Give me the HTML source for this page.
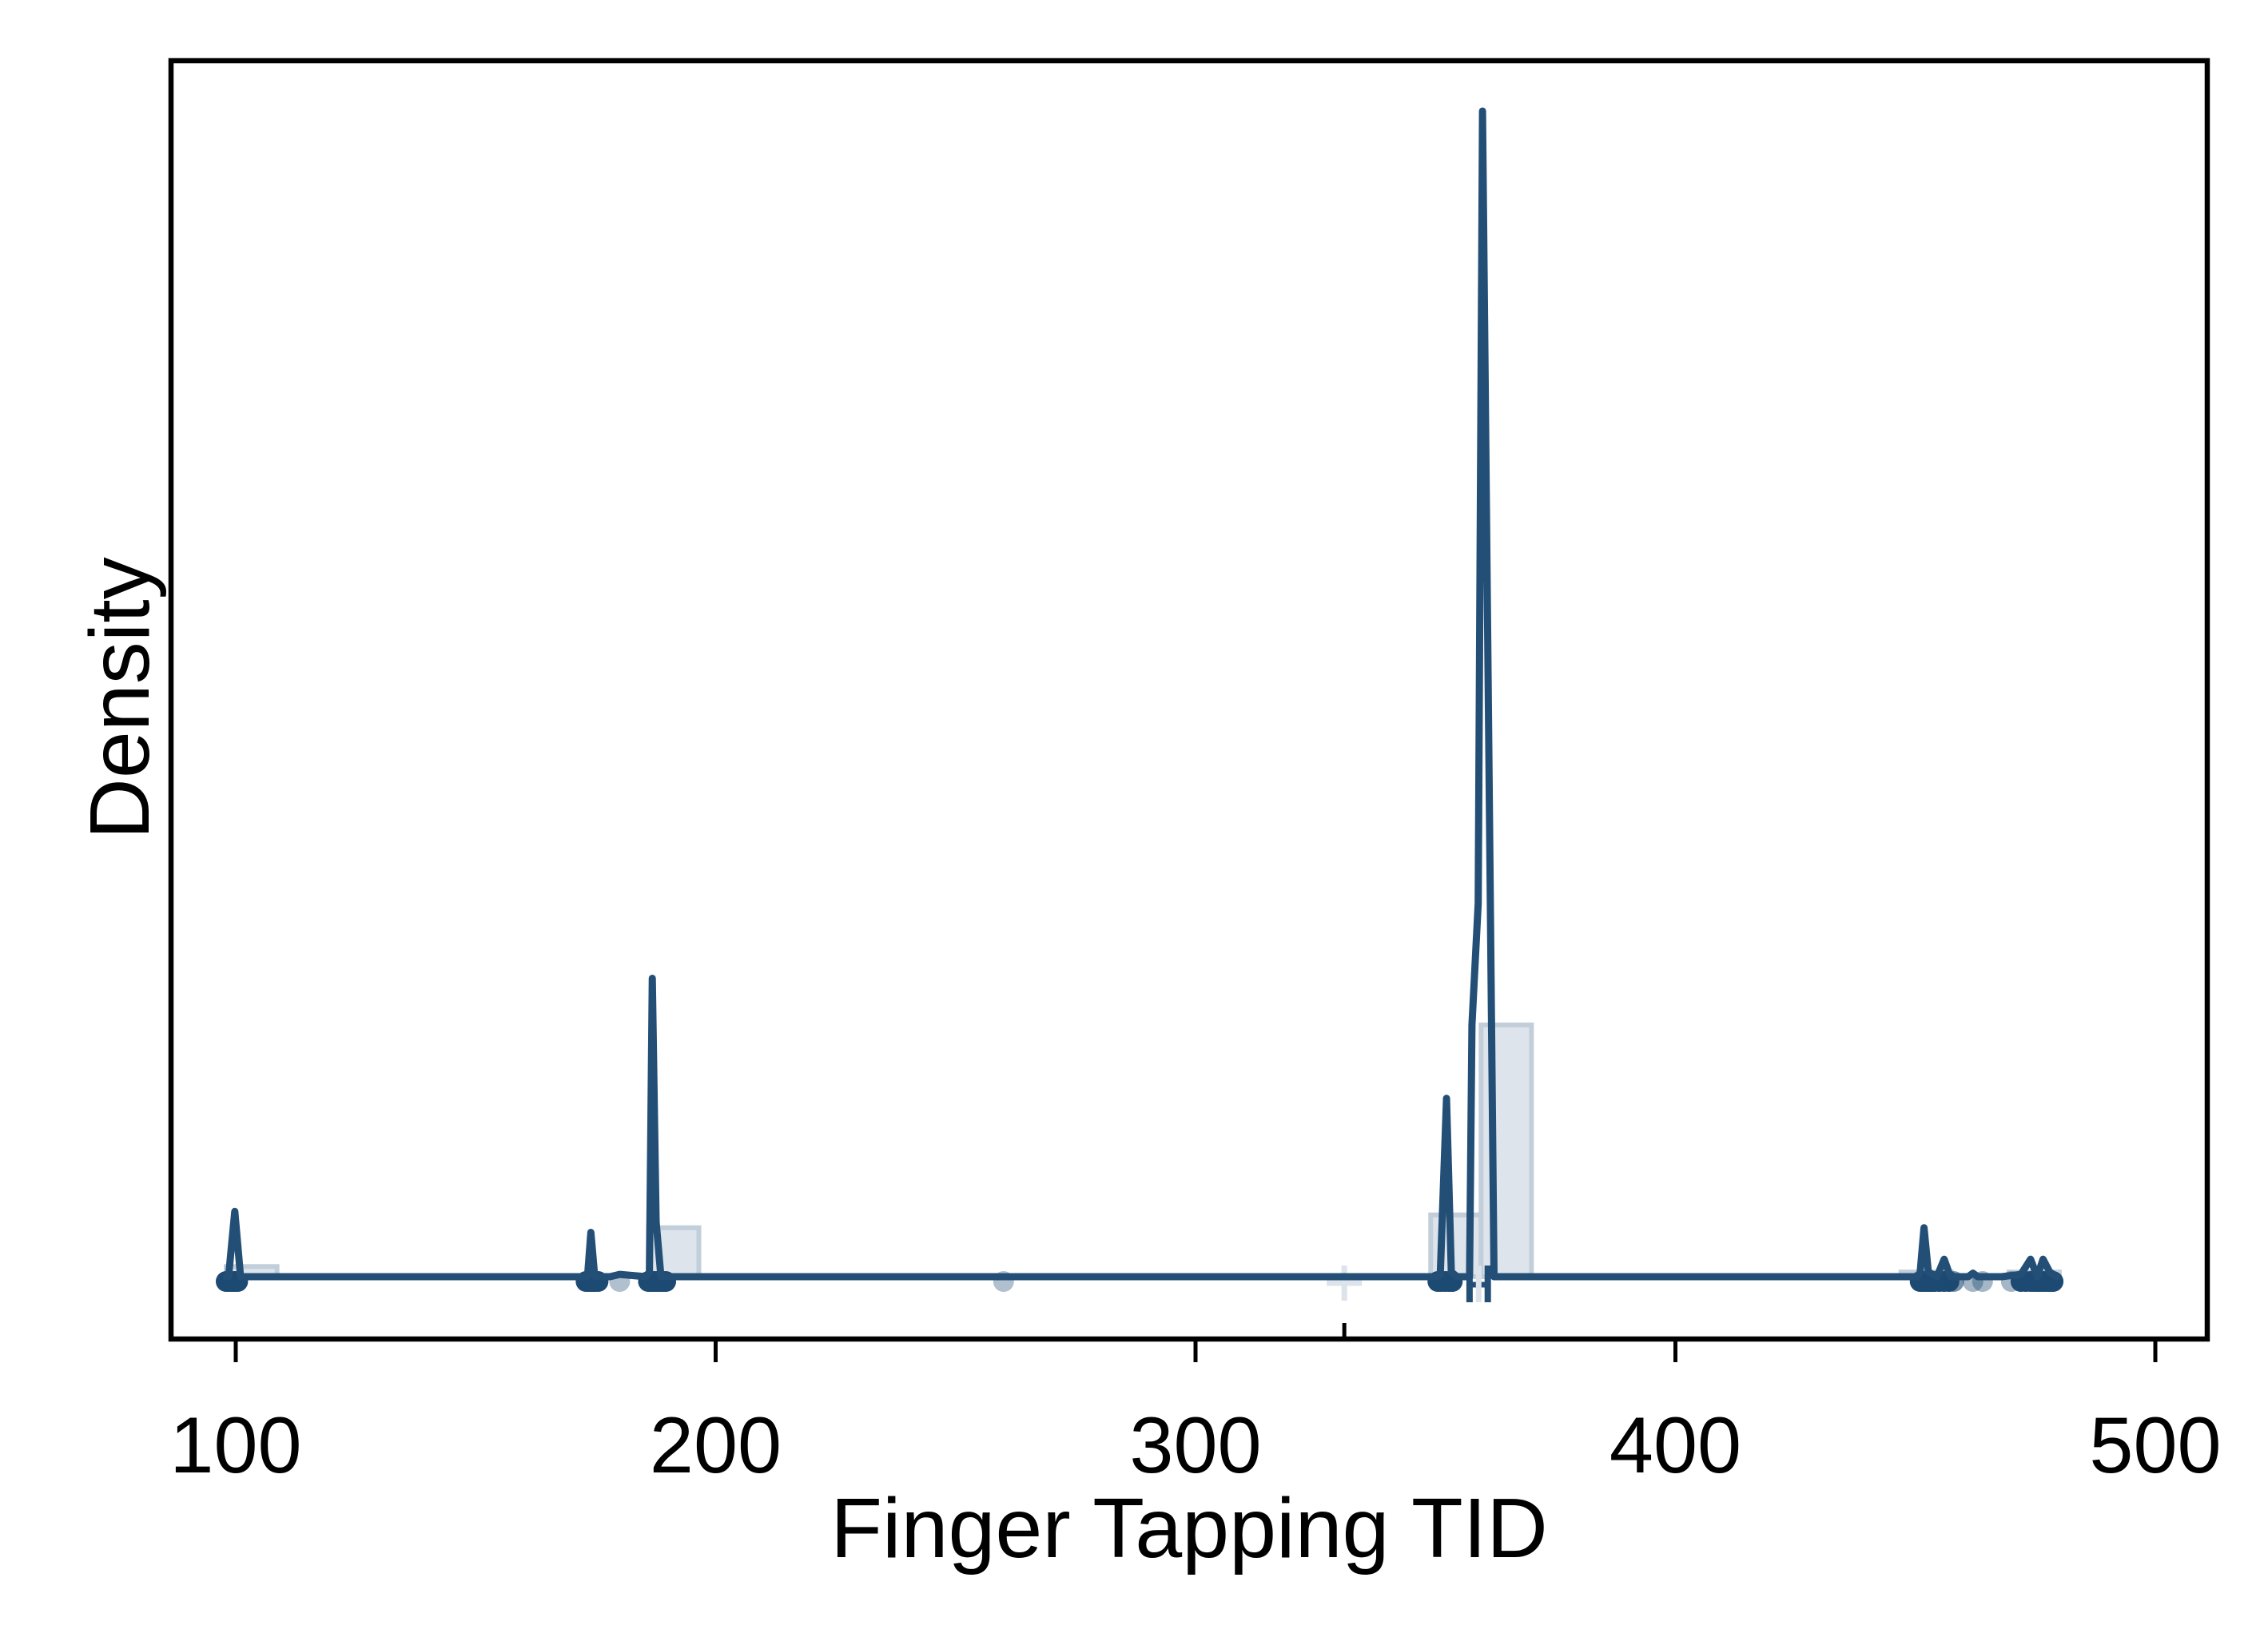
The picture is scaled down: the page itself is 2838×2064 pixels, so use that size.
<!DOCTYPE html>
<html><head><meta charset="utf-8"><style>
html,body{margin:0;padding:0;background:#fff;}
svg{display:block;font-family:"Liberation Sans",Arial,sans-serif;}
</style></head><body>
<svg id="chart" width="2838" height="2064" viewBox="0 0 2838 2064">
<rect x="0" y="0" width="2838" height="2064" fill="#fff"/>
<g id="hist"></g>
<g id="extras"></g>
<g id="dots"></g>
<path id="dens" fill="none" stroke="#234f77" stroke-width="9" stroke-linejoin="round" stroke-linecap="round"/>
<rect x="214" y="76" width="2548" height="1600" fill="none" stroke="#000" stroke-width="6.5"/>
<g id="xaxis"></g>
<text x="1488" y="1949" font-size="106" text-anchor="middle" fill="#000">Finger Tapping TID</text>
<text x="0" y="0" font-size="106" text-anchor="middle" fill="#000" transform="translate(186,874) rotate(-90)">Density</text>
</svg>
<script>
const xTicks = [100, 200, 300, 400, 500];
const densX = [98, 98.5, 99.8, 101, 102, 172.5, 173.3, 174, 174.8, 176, 178, 180, 185.5, 186.2, 186.8, 187.6, 188.6, 190, 350.3, 351, 352.3, 353.3, 354.5, 355.5, 357.1, 357.6, 358.9, 359.8, 362.2, 363, 450.5, 451, 451.8, 452.7, 454.5, 456, 457.3, 459, 461, 462, 463, 468, 472, 474, 475.4, 476.6, 478, 479.5];
const densY = [0, 0, 0.056, 0, 0, 0, 0, 0.038, 0, 0, 0, 0.002, 0, 0.004, 0.256, 0.047, 0, 0, 0, 0.002, 0.153, 0.004, 0, 0, 0, 0.216, 0.32, 1.0, 0, 0, 0, 0.004, 0.042, 0.004, 0, 0.015, 0, 0, 0, 0.003, 0, 0, 0.002, 0.015, 0, 0.015, 0.004, 0];
const binStart = [98, 186, 349, 359.5, 447, 469.5];
const binEnd = [108.6, 196.5, 359.5, 370, 457.5, 480];
const binHeight = [0.0087, 0.042, 0.053, 0.216, 0.004, 0.004];
const pointX = [98, 98.6, 99.2, 99.8, 100.4, 173, 173.6, 174.2, 174.8, 175.5, 180, 186, 186.6, 187.2, 187.8, 188.4, 189, 189.6, 260, 350.5, 351.2, 352, 352.8, 353.5, 451, 451.6, 452.2, 452.8, 453.4, 454, 455, 456, 457, 458, 462, 464, 470, 472, 473, 474, 474.7, 475.4, 476, 476.7, 477.4, 478, 478.7];
const pointAlpha = [1, 1, 1, 1, 1, 1, 1, 1, 1, 1, 0.35, 1, 1, 1, 1, 1, 1, 1, 0.35, 1, 1, 1, 1, 1, 1, 1, 1, 1, 1, 1, 1, 1, 1, 0.6, 0.4, 0.4, 0.4, 1, 1, 1, 1, 1, 1, 1, 1, 1, 1];

const NS = "http://www.w3.org/2000/svg";
function sx(v){ return 295 + (v - 100) * 600.5 / 100; }
function sy(d){ return 1598 - d * 1459; }

const hist = document.getElementById('hist');
for (let i = 0; i < binStart.length; i++) {
  const r = document.createElementNS(NS, 'rect');
  const x0 = sx(binStart[i]), x1 = sx(binEnd[i]);
  r.setAttribute('x', x0); r.setAttribute('width', x1 - x0);
  r.setAttribute('y', sy(binHeight[i])); r.setAttribute('height', 1598 - sy(binHeight[i]));
  r.setAttribute('fill', '#dde4ec'); r.setAttribute('stroke', '#c2ceda'); r.setAttribute('stroke-width', '6');
  
  
  hist.appendChild(r);
}

const extras = document.getElementById('extras');
function addLine(x1,y1,x2,y2,col,w,name){
  const l = document.createElementNS(NS,'line');
  l.setAttribute('x1',x1);l.setAttribute('y1',y1);l.setAttribute('x2',x2);l.setAttribute('y2',y2);
  l.setAttribute('stroke',col);l.setAttribute('stroke-width',w);
  
  
  extras.appendChild(l);
}
addLine(sx(250), 1598, sx(262), 1598, '#b9c6d3', 8, 'light-segment');
addLine(sx(331)-22, 1606, sx(331)+22, 1606, '#dde3ea', 7, 'mean-marker-h');
addLine(sx(331), 1584, sx(331), 1628, '#dde3ea', 7, 'mean-marker-v');
addLine(sx(331), 1656, sx(331), 1676, '#000', 5, 'mean-axis-tick');
addLine(sx(357.1), 1584, sx(357.1), 1630, '#234f77', 8, 'median-marker-left');
addLine(sx(357.1), 1608, sx(360.9), 1608, '#234f77', 7, 'median-marker-bar');
addLine(sx(359), 1584, sx(359), 1630, '#dde3ea', 7, 'median-marker-mid');
addLine(sx(360.9), 1584, sx(360.9), 1630, '#234f77', 8, 'median-marker-right');

const dots = document.getElementById('dots');
for (let i = 0; i < pointX.length; i++) {
  const c = document.createElementNS(NS, 'circle');
  c.setAttribute('cx', sx(pointX[i])); c.setAttribute('cy', 1604); c.setAttribute('r', 13);
  c.setAttribute('fill', '#1d4a72'); c.setAttribute('fill-opacity', pointAlpha[i]);
  
  
  dots.appendChild(c);
}

let d = 'M' + sx(densX[0]) + ',' + sy(densY[0]);
for (let i = 1; i < densX.length; i++) d += ' L' + sx(densX[i]) + ',' + sy(densY[i]);
document.getElementById('dens').setAttribute('d', d);

const xa = document.getElementById('xaxis');
xTicks.forEach(t => {
  const l = document.createElementNS(NS, 'line');
  l.setAttribute('x1', sx(t)); l.setAttribute('x2', sx(t));
  l.setAttribute('y1', 1676); l.setAttribute('y2', 1705);
  l.setAttribute('stroke', '#000'); l.setAttribute('stroke-width', 5);
  
  
  xa.appendChild(l);
  const tx = document.createElementNS(NS, 'text');
  tx.setAttribute('x', sx(t)); tx.setAttribute('y', 1843);
  tx.setAttribute('font-size', 99); tx.setAttribute('text-anchor', 'middle');
  tx.textContent = t;
  
  
  xa.appendChild(tx);
});
</script>
</body></html>
